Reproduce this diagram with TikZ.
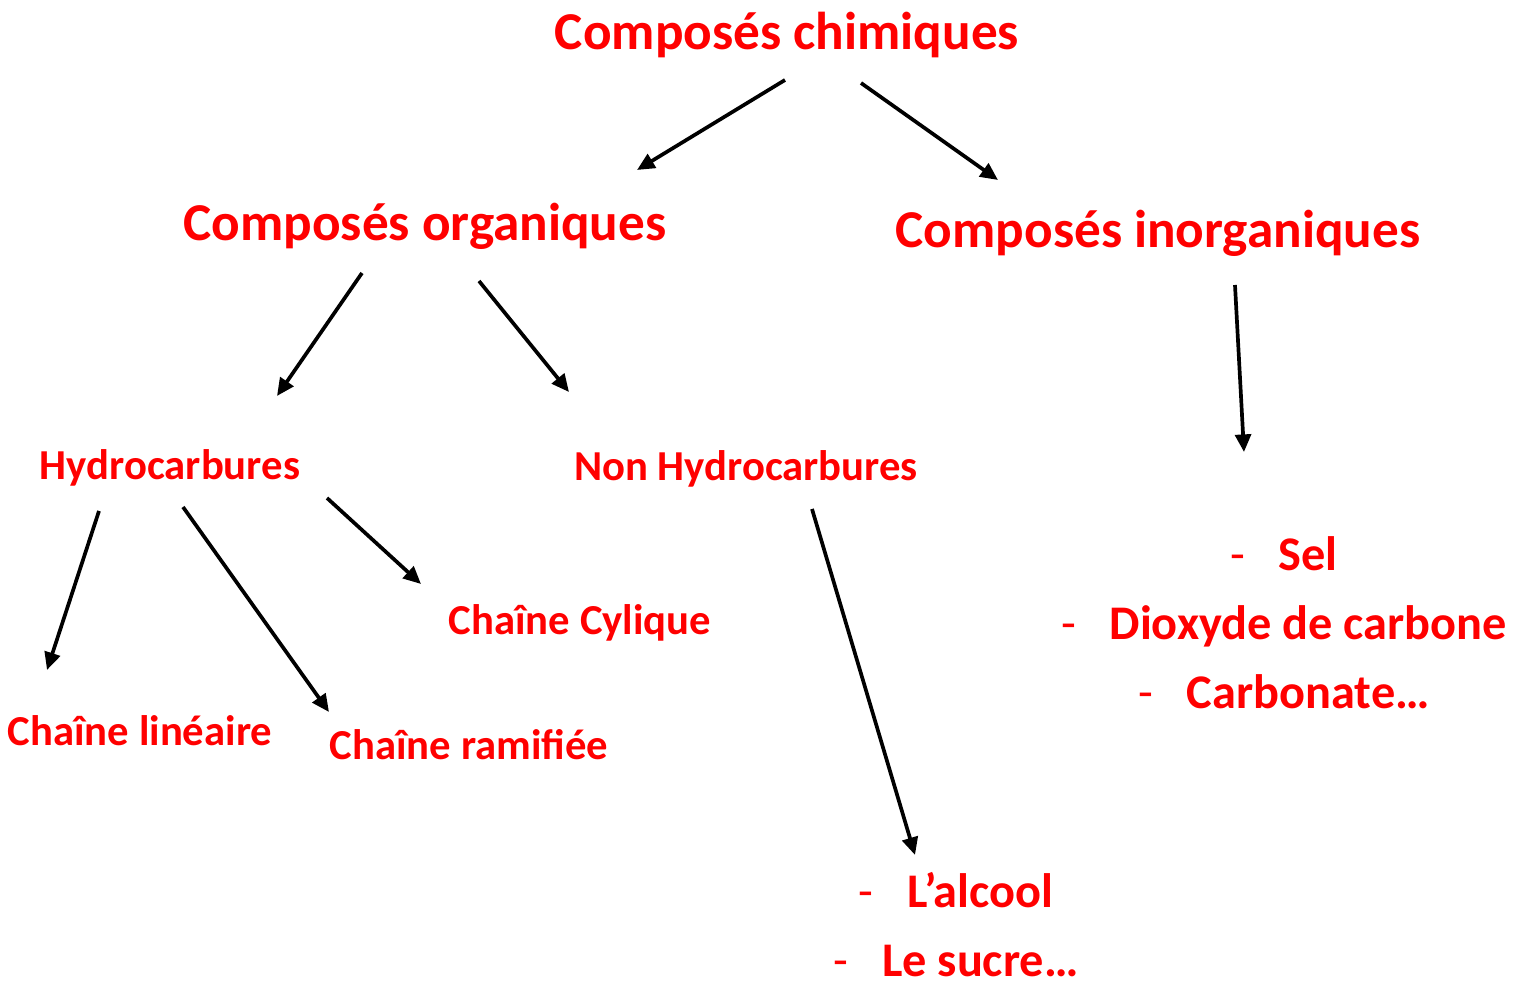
\documentclass[tikz,border=0pt]{standalone}
\usepackage{fontspec}
\setmainfont{Carlito}
\usetikzlibrary{arrows.meta}

\newcommand{\itemdash}{\textmd{-}\hspace{0.7em}}

\tikzset{
  lbl/.style={text=red,font=\bfseries,inner sep=0pt},
  big/.style={lbl,font=\bfseries\fontsize{30.3}{36}\selectfont},
  small/.style={lbl,font=\bfseries\fontsize{24.3}{29}\selectfont},
  items/.style={lbl,anchor=base,font=\bfseries\fontsize{27.5}{33}\selectfont},
  arr/.style={-{Triangle[length=10pt,width=9pt]},line width=2.1pt,black}
}

\begin{document}
\begin{tikzpicture}[x=0.02cm,y=-0.02cm]
  \useasboundingbox (0,0) rectangle (1526,982);

  % Top level
  \node[big] (chem) at (787,35) {Composés chimiques};

  % Second level
  \node[big] (org) at (425,226) {Composés organiques};
  \node[big] (inorg) at (1158,233) {Composés inorganiques};

  % Third level
  \node[small] (hydro) at (170,468) {Hydrocarbures};
  \node[small] (nonhydro) at (746,469) {Non Hydrocarbures};

  % Chains
  \node[small] (lin) at (140,731) {Chaîne linéaire};
  \node[small] (ram) at (469,745) {Chaîne ramifiée};
  \node[small] (cyc) at (580,623) {Chaîne Cylique};

  % Examples (inorganic)
  \foreach \t [count=\i] in {Sel,Dioxyde de carbone,Carbonate…} {
    \node[items] (in\i) at (1284,571+69*\i-69) {\itemdash\t};
  }

  % Examples (organic)
  \foreach \t [count=\i] in {L’alcool,Le sucre…} {
    \node[items] (og\i) at (956,908+69*\i-69) {\itemdash\t};
  }

  % Arrow ends
  \coordinate (chem-l) at (785,80);
  \coordinate (org-t) at (637,170);
  \coordinate (chem-r) at (861,83);
  \coordinate (inorg-t) at (998,180);
  \coordinate (org-l) at (362,273);
  \coordinate (hydro-t) at (277,396);
  \coordinate (org-r) at (479,281);
  \coordinate (nonhydro-t) at (569,392);
  \coordinate (inorg-b) at (1235,285);
  \coordinate (in-t) at (1244,452);
  \coordinate (hydro-l) at (99,511);
  \coordinate (lin-t) at (47,670);
  \coordinate (hydro-m) at (183,507);
  \coordinate (ram-t) at (329,712);
  \coordinate (hydro-r) at (327,498);
  \coordinate (cyc-t) at (421,584);
  \coordinate (nonhydro-b) at (812,509);
  \coordinate (og-t) at (915,855);

  % Connections
  \draw[arr] (chem-l) -- (org-t);
  \draw[arr] (chem-r) -- (inorg-t);
  \draw[arr] (org-l) -- (hydro-t);
  \draw[arr] (org-r) -- (nonhydro-t);
  \draw[arr] (inorg-b) -- (in-t);
  \draw[arr] (hydro-l) -- (lin-t);
  \draw[arr] (hydro-m) -- (ram-t);
  \draw[arr] (hydro-r) -- (cyc-t);
  \draw[arr] (nonhydro-b) -- (og-t);

\end{tikzpicture}
\end{document}
